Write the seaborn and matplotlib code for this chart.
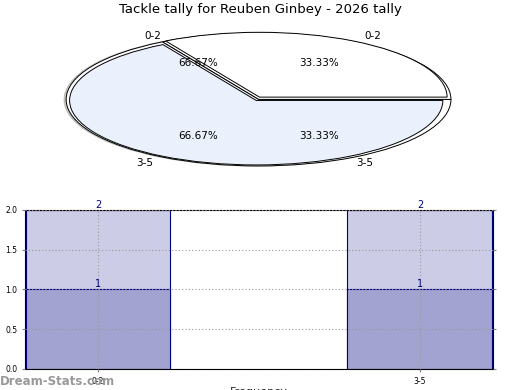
import numpy as np
import pandas as pd
import matplotlib
matplotlib.use('Agg')
import matplotlib.pyplot as plt
import seaborn as sns

# data
intervals = ['0-2', '3-5']
pie_values = [1, 2]
pie_colors = ['#ffffff', '#eaf0fc']
mirror_pct = ['66.67%', '33.33%']
lower_counts = [1, 1]
upper_counts = [2, 2]   # cumulative top of stack

sns.set_style('white')
plt.rcParams['font.family'] = ['DejaVu Sans']
plt.rcParams['text.color'] = 'black'

fig = plt.figure(figsize=(5.2, 3.9), dpi=100)
fig.suptitle('Tackle tally for Reuben Ginbey - 2026 tally', fontsize=9.5, y=0.992)

# pie (squashed, back layer gives the doubled rim)
ax1 = fig.add_axes([0.1087, 0.566, 0.777, 0.358])
ax1.pie(pie_values, colors=['#ffffff', '#ffffff'], startangle=0,
        shadow={'ox': -0.008, 'oy': -0.002, 'shade': 0.4},
        wedgeprops=dict(edgecolor='black', linewidth=0.7))
wedges, texts, pcts = ax1.pie(pie_values, labels=intervals, colors=pie_colors, startangle=0,
                              autopct='%.2f%%', pctdistance=0.63, labeldistance=1.1,
                              wedgeprops=dict(edgecolor='black', linewidth=0.7),
                              textprops=dict(fontsize=7.5, color='black'))
wedges[0].set_center((0.005, 0.035))
wedges[0].set_radius(0.975)
wedges[1].set_center((-0.012, -0.015))
wedges[1].set_radius(0.97)
# mirrored labels
for t, p, lab in zip(texts, pcts, mirror_pct):
    x, y = t.get_position()
    ax1.text(-x, y, t.get_text(), ha='center', va='center', fontsize=7.5)
    px, py = p.get_position()
    ax1.text(-px, py, lab, ha='center', va='center', fontsize=7.5)
ax1.set_aspect('auto')
ax1.set_xlim(-1.05, 1.05)
ax1.set_ylim(-1.05, 1.05)
ax1.axis('off')

# stacked bars
ax2 = fig.add_axes([0.048, 0.054, 0.9, 0.408])
df = pd.DataFrame({'interval': intervals, 'upper': upper_counts, 'lower': lower_counts})
sns.barplot(data=df, x='interval', y='upper', color='#cccce6', saturation=1, width=0.45,
            edgecolor='navy', linewidth=0.8, ax=ax2)
sns.barplot(data=df, x='interval', y='lower', color='#a3a3d1', saturation=1, width=0.45,
            edgecolor='navy', linewidth=0.8, ax=ax2)
for c in ax2.containers:
    ax2.bar_label(c, fmt='%d', color='navy', fontsize=7, padding=0)
ax2.set_xlim(-0.227, 1.227)
ax2.set_ylim(0, 2)
ax2.set_yticks([0, 0.5, 1.0, 1.5, 2.0])
ax2.yaxis.set_major_formatter(matplotlib.ticker.FormatStrFormatter('%.1f'))
ax2.tick_params(labelsize=5.5, length=2, color='grey', right=True, left=True, bottom=True,
                labelcolor='black')
ax2.grid(True, linestyle=(0, (1, 2)), color='#999999', linewidth=0.8)
ax2.set_axisbelow(False)
for s in ax2.spines.values():
    s.set_color('black')
    s.set_linewidth(0.8)
ax2.set_xlabel('Frequency', fontsize=8, labelpad=1)
ax2.set_ylabel('Stat Intervals', fontsize=8, labelpad=2)

fig.text(0.0, 0.012, 'Dream-Stats.com', color='#999999', fontsize=8.5, fontweight='bold')

fig.savefig('out.png', dpi=100)
